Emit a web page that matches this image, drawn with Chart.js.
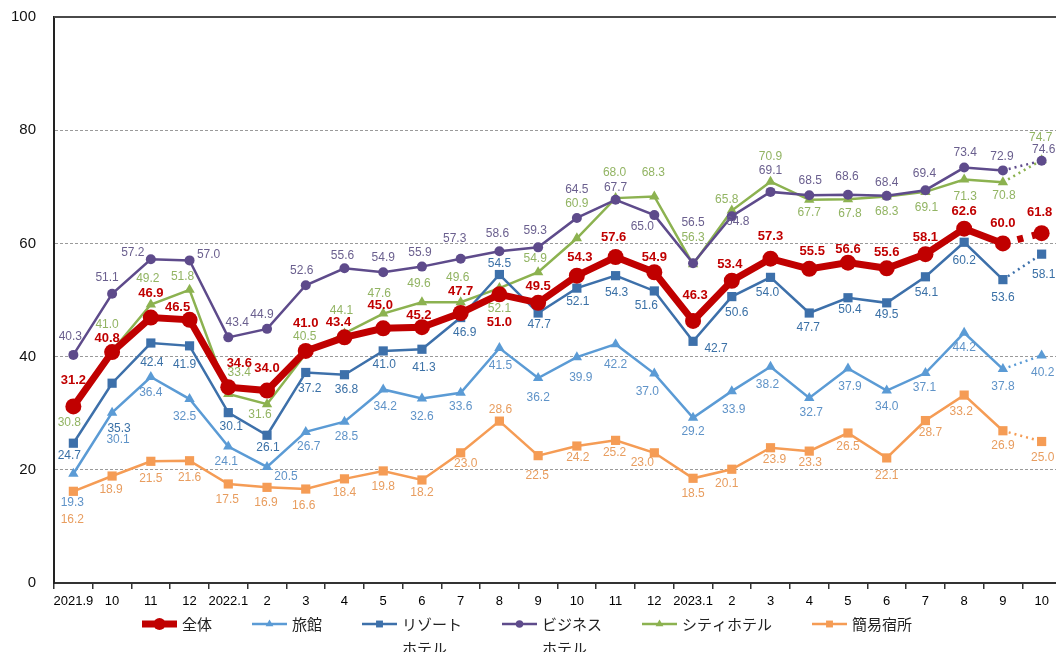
<!DOCTYPE html>
<html><head><meta charset="utf-8">
<script src="https://cdn.jsdelivr.net/npm/chart.js@4.4.1/dist/chart.umd.min.js"></script>
<style>
html,body{margin:0;padding:0;background:#fff;overflow:hidden;width:1056px;height:652px}
#wrap{width:1061px;height:652px;position:relative}
</style></head><body><div id="wrap"><canvas id="c"></canvas></div>
<script>
// ---- data ----
const categories = ['2021.9','10','11','12','2022.1','2','3','4','5','6','7','8','9','10','11','12','2023.1','2','3','4','5','6','7','8','9','10'];
const seriesNames = ['全体','旅館','リゾート\nホテル','ビジネス\nホテル','シティホテル','簡易宿所'];
const zentai   = [31.2,40.8,46.9,46.5,34.6,34.0,41.0,43.4,45.0,45.2,47.7,51.0,49.5,54.3,57.6,54.9,46.3,53.4,57.3,55.5,56.6,55.6,58.1,62.6,60.0,61.8];
const ryokan   = [19.3,30.1,36.4,32.5,24.1,20.5,26.7,28.5,34.2,32.6,33.6,41.5,36.2,39.9,42.2,37.0,29.2,33.9,38.2,32.7,37.9,34.0,37.1,44.2,37.8,40.2];
const resort   = [24.7,35.3,42.4,41.9,30.1,26.1,37.2,36.8,41.0,41.3,46.9,54.5,47.7,52.1,54.3,51.6,42.7,50.6,54.0,47.7,50.4,49.5,54.1,60.2,53.6,58.1];
const business = [40.3,51.1,57.2,57.0,43.4,44.9,52.6,55.6,54.9,55.9,57.3,58.6,59.3,64.5,67.7,65.0,56.5,64.8,69.1,68.5,68.6,68.4,69.4,73.4,72.9,74.6];
const city     = [30.8,41.0,49.2,51.8,33.4,31.6,40.5,44.1,47.6,49.6,49.6,52.1,54.9,60.9,68.0,68.3,56.3,65.8,70.9,67.7,67.8,68.3,69.1,71.3,70.8,74.7];
const kani     = [16.2,18.9,21.5,21.6,17.5,16.9,16.6,18.4,19.8,18.2,23.0,28.6,22.5,24.2,25.2,23.0,18.5,20.1,23.9,23.3,26.5,22.1,28.7,33.2,26.9,25.0];
const yTicks = [0,20,40,60,80,100];

// ---- label offsets (style: px relative to each point) ----
const offZentaiX = [0,-5,0,-12,11,0,0,-6,-3,-3,0,0,0,3,-2,0,2,-2,0,3,0,0,0,0,0,-2];
const offZentaiY = [-26,-14,-24,-12,-24,-22,-28,-15,-23,-12,-22,28,-16,-18,-20,-15,-26,-16,-22,-17,-13,-16,-17,-17,-20,-21];
const offRyokanX = [-1,6,0,-5,-2,19,3,2,2,0,0,1,0,4,0,-7,0,2,-3,2,2,0,-1,0,0,1];
const offRyokanY = [29,27,16,18,15,10,15,15,17,18,14,18,20,21,21,18,14,19,18,15,18,16,15,15,18,17];
const offResortX = [-4,7,1,-5,3,1,4,2,1,2,4,0,1,1,1,-8,23,5,-3,-1,2,0,1,0,0,2];
const offResortY = [12,45,20,19,14,12,16,15,14,18,15,-11,12,14,17,15,7,16,15,15,12,12,16,18,18,21];
const offBizX = [-3,-5,-18,19,9,-5,-4,-2,0,-2,-6,-2,-3,0,0,-12,0,6,0,1,-1,0,-1,1,-1,2];
const offBizY = [-18,-16,-7,-6,-15,-14,-15,-13,-15,-14,-20,-18,-17,-28,-12,12,-41,5,-21,-15,-18,-13,-17,-15,-14,-11];
const offCityX = [-4,-5,-3,-7,11,-7,-1,-3,-4,-3,-3,0,-3,0,-1,-1,0,-5,0,0,2,0,1,1,1,-1];
const offCityY = [14,-26,-26,-13,-21,11,-17,-23,-20,-19,-25,21,-14,-35,-25,-24,-27,-11,-25,13,14,15,16,17,13,-23];
const offKaniX = [-1,-1,0,0,-1,-1,-2,0,0,0,5,1,-1,1,-1,-12,0,-5,4,1,0,0,5,-3,0,1];
const offKaniY = [28,14,17,17,16,15,17,14,16,13,11,-11,20,12,12,10,15,14,12,12,14,18,12,17,15,16];

const NUM_FONT = '"Liberation Sans", Arial, sans-serif';
const JP_FONT = '"Noto Sans CJK JP", "Noto Sans", sans-serif';
const LAST = categories.length - 2;

function mk(label, data, color, lblColor, width, style, radius, dash, offX, offY, bold) {
  return {
    label, data,
    borderColor: color, backgroundColor: color,
    pointBackgroundColor: color, pointBorderColor: color, pointBorderWidth: 0,
    borderWidth: width, pointStyle: style, pointRadius: radius, pointHoverRadius: radius,
    tension: 0, borderCapStyle: 'butt', clip: false,
    segment: { borderDash: c => c.p0DataIndex === LAST ? dash : undefined },
    _lblColor: lblColor, _offX: offX, _offY: offY, _bold: bold
  };
}

const datasets = [
  mk(seriesNames[0], zentai,   '#c00000', '#c00000', 7,   'circle',   8,   [6,9], offZentaiX, offZentaiY, true),
  mk(seriesNames[1], ryokan,   '#5b9bd5', '#5f93c8', 2.5, 'triangle', 6,   [2,4], offRyokanX, offRyokanY, false),
  mk(seriesNames[2], resort,   '#3d70aa', '#3a70a6', 2.5, 'rect',     6.5, [2,4], offResortX, offResortY, false),
  mk(seriesNames[3], business, '#5e4b8b', '#6a5f8e', 2.5, 'circle',   5,   [2,4], offBizX, offBizY, false),
  mk(seriesNames[4], city,     '#8cb250', '#92b463', 2.5, 'triangle', 6,   [2,4], offCityX, offCityY, false),
  mk(seriesNames[5], kani,     '#f59c55', '#e89d5f', 2.5, 'rect',     6.5, [2,4], offKaniX, offKaniY, false)
];

const topLine = {
  id: 'topLine',
  beforeDatasetsDraw(chart) {
    const {ctx, chartArea, scales} = chart;
    const y = scales.y.getPixelForValue(100);
    ctx.save();
    ctx.strokeStyle = '#4a4a4a'; ctx.lineWidth = 2;
    ctx.beginPath(); ctx.moveTo(chartArea.left, y); ctx.lineTo(chartArea.right, y); ctx.stroke();
    ctx.restore();
  }
};

const dataLabels = {
  id: 'dataLabels',
  afterDatasetsDraw(chart) {
    const ctx = chart.ctx;
    ctx.save();
    ctx.textAlign = 'center'; ctx.textBaseline = 'middle';
    for (let d = chart.data.datasets.length - 1; d >= 0; d--) {
      const ds = chart.data.datasets[d];
      const meta = chart.getDatasetMeta(d);
      ctx.fillStyle = ds._lblColor;
      ctx.font = ds._bold ? 'bold 13px ' + NUM_FONT : '12px ' + NUM_FONT;
      meta.data.forEach((pt, i) => {
        ctx.fillText(ds.data[i].toFixed(1), pt.x + ds._offX[i], pt.y + ds._offY[i]);
      });
    }
    ctx.restore();
  }
};

const legendPlugin = {
  id: 'customLegend',
  afterDraw(chart) {
    const ctx = chart.ctx;
    ctx.save();
    ctx.font = '15px ' + JP_FONT;
    ctx.textBaseline = 'middle'; ctx.textAlign = 'left';
    let x = 142; const y = 624;
    chart.data.datasets.forEach(ds => {
      const lines = ds.label.split('\n');
      ctx.strokeStyle = ds.borderColor; ctx.lineWidth = ds.borderWidth;
      ctx.setLineDash([]);
      ctx.beginPath(); ctx.moveTo(x, y); ctx.lineTo(x + 35, y); ctx.stroke();
      ctx.fillStyle = ds.borderColor;
      Chart.helpers.drawPoint(ctx, {pointStyle: ds.pointStyle, radius: ds.pointRadius * 0.75, borderWidth: 0, rotation: 0}, x + 17.5, y);
      ctx.fillStyle = '#222';
      let w = 0;
      lines.forEach((t, k) => { ctx.fillText(t, x + 40, y + k * 24); w = Math.max(w, ctx.measureText(t).width); });
      x += 40 + w + 40;
    });
    ctx.restore();
  }
};

new Chart(document.getElementById('c'), {
  type: 'line',
  data: { labels: categories, datasets },
  options: {
    responsive: true, maintainAspectRatio: false, animation: false, devicePixelRatio: 1,
    layout: { autoPadding: false, padding: { top: 17, right: 0, left: 0, bottom: 0 } },
    plugins: { legend: { display: false }, tooltip: { enabled: false } },
    scales: {
      x: {
        offset: true,
        grid: { offset: true, drawOnChartArea: false, drawTicks: true, tickLength: 6, color: '#333', lineWidth: 1.5 },
        border: { display: true, color: '#333', width: 2 },
        ticks: { color: '#000', font: { size: 13, family: NUM_FONT }, padding: 5, maxRotation: 0, autoSkip: false },
        afterFit: s => { s.height = 69; s.paddingLeft = 0; s.paddingRight = 0; }
      },
      y: {
        min: 0, max: 100,
        afterBuildTicks: s => { s.ticks = yTicks.map(v => ({ value: v })); },
        ticks: { color: '#111', font: { size: 15, family: NUM_FONT }, padding: 18 },
        grid: { drawTicks: false, lineWidth: 1, color: c => (c.tick && c.tick.value === 0) ? 'rgba(0,0,0,0)' : '#9a9a9a' },
        border: { display: true, color: '#222', width: 2, dash: [3, 2] },
        afterFit: s => { s.width = 54; s.paddingTop = 0; s.paddingBottom = 0; }
      }
    }
  },
  plugins: [topLine, dataLabels, legendPlugin]
});
</script>
</body></html>
